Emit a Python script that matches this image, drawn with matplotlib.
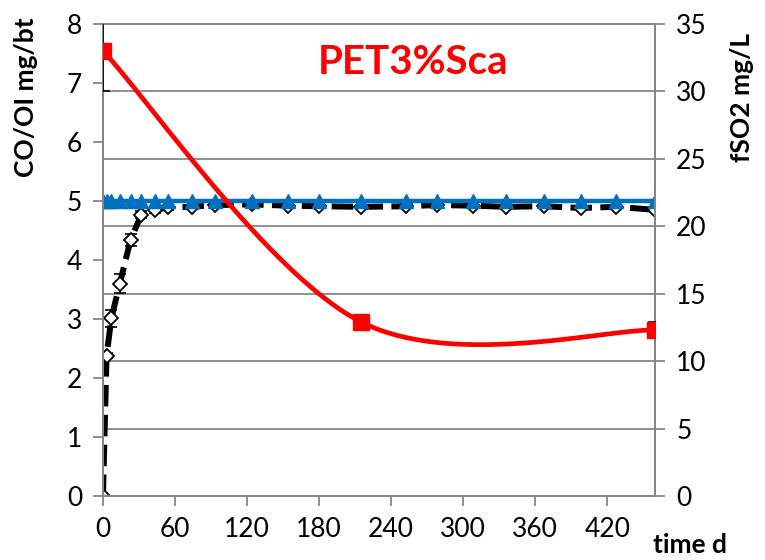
import matplotlib
matplotlib.use("Agg")
import matplotlib.pyplot as plt
import numpy as np

# sampling days (shared by the two left-axis series)
days = [0, 3, 7, 14, 23, 32, 43, 54, 74, 93, 124, 154, 180, 215, 252, 278,
        308, 336, 367, 398, 427, 460]
co_oi = [0, 2.38, 3.01, 3.6, 4.34, 4.77, 4.85, 4.89, 4.9, 4.93, 4.94, 4.92,
         4.91, 4.9, 4.91, 4.93, 4.92, 4.9, 4.91, 4.88, 4.9, 4.85]
co_oi_err = [0.02, 0.05, 0.15, 0.16, 0.1, 0.06, 0.05, 0.04, 0.03, 0.03, 0.03,
             0.03, 0.03, 0.03, 0.03, 0.03, 0.03, 0.03, 0.03, 0.03, 0.03, 0.03]
total = [5.0] * len(days)

# free SO2 (right axis)
so2_days = [0, 215, 460]
so2 = [33.0, 12.9, 12.3]
so2_err = [3.0, 0.3, 0.6]

xticks = [0, 60, 120, 180, 240, 300, 360, 420]

GRAY = "#868686"


def excel_smooth(x, y, sx, sy, n=60):
    """Excel-style smoothed line through points (Bezier, done in screen units)."""
    p = np.column_stack([np.asarray(x, float) * sx, np.asarray(y, float) * sy])
    pts = []
    for i in range(len(p) - 1):
        p0 = p[i - 1] if i > 0 else p[i]
        p1, p2 = p[i], p[i + 1]
        p3 = p[i + 2] if i + 2 < len(p) else p[i + 1]
        c1 = p1 + (p2 - p0) / 6
        c2 = p2 - (p3 - p1) / 6
        t = np.linspace(0, 1, n)[:, None]
        seg = ((1 - t) ** 3 * p1 + 3 * (1 - t) ** 2 * t * c1
               + 3 * (1 - t) * t ** 2 * c2 + t ** 3 * p2)
        pts.append(seg)
    pts = np.vstack(pts)
    return pts[:, 0] / sx, pts[:, 1] / sy


def main():
    plt.rcParams['font.family'] = ['Lato', 'DejaVu Sans']
    fig = plt.figure(figsize=(7.65, 5.6), dpi=100)
    ax = fig.add_axes([0.1346, 0.1143, 0.722, 0.843])
    ax2 = ax.twinx()

    ax.set_xlim(0, 460)
    ax.set_ylim(0, 8)
    ax2.set_ylim(0, 35)
    ax.set_xticks(xticks)
    ax.set_yticks(range(0, 9))
    ax2.set_yticks(range(0, 36, 5))

    # gridlines follow the right axis
    ax.set_yticks([v * 8 / 35 for v in range(5, 36, 5)], minor=True)
    ax.grid(True, which='minor', axis='y', color=GRAY, lw=1.3)
    ax.tick_params(axis='y', which='minor', length=0)
    ax.set_axisbelow(True)

    for a in (ax, ax2):
        for s in a.spines.values():
            s.set_color(GRAY)
            s.set_linewidth(1.4)
        a.tick_params(axis='both', which='major', direction='out', length=7,
                      width=1.3, color=GRAY, labelsize=19, pad=8)

    ax.errorbar(days, co_oi, yerr=co_oi_err, fmt='none', ecolor='black',
                elinewidth=1.2, capsize=4, capthick=1.2, zorder=2)
    ax.plot(days, co_oi, color='black', lw=4.3, dashes=(3.6, 1.4),
            marker='D', ms=7.5, mfc='white', mec='black', mew=1.3, zorder=3)
    ax.plot(days, total, color='#0070C0', lw=3.2, marker='^', ms=10.5,
            mfc='#0070C0', mec='#0070C0', zorder=4)

    # smoothed red line
    bb = ax.get_position()
    sx = bb.width * 765 / 460
    sy = bb.height * 560 / 35
    xs, ys = excel_smooth(so2_days, so2, sx, sy)
    ax2.plot(xs, ys, color='#FF0000', lw=3.4, zorder=3)
    ax2.errorbar(so2_days, so2, yerr=so2_err, fmt='none', ecolor='black',
                 elinewidth=1.2, capsize=5, capthick=1.2, zorder=4)
    ax2.plot(so2_days, so2, ls='none', marker='s', ms=11, color='#FF0000',
             zorder=5)

    ax.set_ylabel("CO/OI mg/bt", fontsize=19, fontweight='bold')
    ax.yaxis.set_label_coords(-0.118, 0.845)
    ax2.set_ylabel("fSO2 mg/L", fontsize=19, fontweight='bold')
    ax2.yaxis.set_label_coords(1.135, 0.845)

    fig.text(0.902, 0.027, "time d", fontsize=19, fontweight='bold',
             ha='center', va='center')
    ax.text(0.5616, 0.919, "PET3%Sca", transform=ax.transAxes, color='#FF0000',
            fontsize=29, fontweight='bold', ha='center', va='center')

    fig.savefig("out.png", dpi=100)


if __name__ == '__main__':
    main()
